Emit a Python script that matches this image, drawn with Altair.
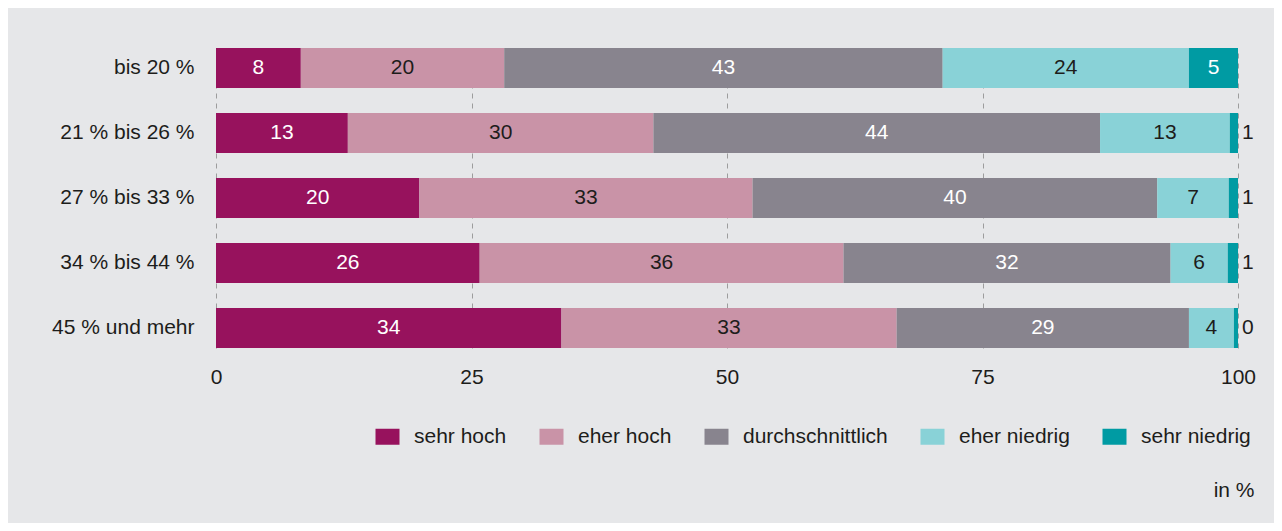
import altair as alt
import pandas as pd

categories = ["bis 20 %", "21 % bis 26 %", "27 % bis 33 %", "34 % bis 44 %", "45 % und mehr"]
levels = ["sehr hoch", "eher hoch", "durchschnittlich", "eher niedrig", "sehr niedrig"]
colors = ["#97125d", "#c993a7", "#88848e", "#89d2d7", "#009ba3"]
label_colors = ["#ffffff", "#1d1d1b", "#ffffff", "#1d1d1b", "#ffffff"]

sehr_hoch = [8.3, 12.9, 19.9, 25.8, 33.8]
eher_hoch = [19.9, 29.9, 32.6, 35.6, 32.8]
durchschnittlich = [42.9, 43.7, 39.6, 32.0, 28.6]
eher_niedrig = [24.1, 12.7, 7.0, 5.6, 4.4]
sehr_niedrig = [4.8, 0.8, 0.9, 1.0, 0.4]

series = [sehr_hoch, eher_hoch, durchschnittlich, eher_niedrig, sehr_niedrig]

rows = []
for i, cat in enumerate(categories):
    start = 0.0
    for j, lev in enumerate(levels):
        v = series[j][i]
        rows.append(dict(
            cat=cat, level=lev, start=start, end=start + v, mid=start + v / 2,
            value=v, label=f"{v:.0f}", tcol=label_colors[j],
            inside=v >= 3,
        ))
        start += v
df = pd.DataFrame(rows)

FONT = "Liberation Sans"
TXT = "#1d1d1b"

x_axis = alt.Axis(
    values=[0, 25, 50, 75, 100], grid=True, gridDash=[5, 5], gridColor="#9d9d9d",
    gridWidth=1, domain=False, ticks=False, labelFontSize=21, labelPadding=18,
    labelColor=TXT, labelFont=FONT, format="d", labelFlush=False,
    title="in %", titleX=1038, titleY=142, titleAlign="right", titleBaseline="middle",
    titleFontSize=21, titleFontWeight="normal", titleColor=TXT, titleFont=FONT, titleAngle=0,
)
x_scale = alt.Scale(domain=[0, 100], nice=False, zero=True)
y_enc = alt.Y(
    "cat:N", sort=categories,
    scale=alt.Scale(paddingInner=0.385, paddingOuter=0),
    axis=alt.Axis(title=None, labelFontSize=21, labelPadding=22, ticks=False, domain=False,
                  labelColor=TXT, labelFont=FONT, grid=False),
)

base = alt.Chart(df)

bars = base.mark_bar().encode(
    x=alt.X("start:Q", scale=x_scale, axis=x_axis),
    x2="end:Q",
    y=y_enc,
    color=alt.Color(
        "level:N",
        scale=alt.Scale(domain=levels, range=colors),
        legend=alt.Legend(
            title=None, orient="none", legendX=161, legendY=378, direction="horizontal",
            columns=5, symbolType="M-1.5,-1H1.5V1H-1.5Z", symbolSize=256, symbolStrokeWidth=0,
            symbolOpacity=1, labelFontSize=21, labelOffset=16, columnPadding=32,
            labelFont=FONT, labelColor=TXT, padding=0,
        ),
    ),
)

inside = base.transform_filter("datum.inside").mark_text(
    fontSize=21, font=FONT, align="center", baseline="middle"
).encode(
    x=alt.X("mid:Q", scale=x_scale, axis=x_axis),
    y=y_enc,
    text="label:N",
    color=alt.Color("tcol:N", scale=None),
)

outside = base.transform_filter("!datum.inside").mark_text(
    fontSize=21, font=FONT, align="left", baseline="middle", dx=4, color=TXT
).encode(
    x=alt.X("end:Q", scale=x_scale, axis=x_axis),
    y=y_enc,
    text="label:N",
)

chart = alt.layer(bars, inside, outside).properties(
    width=1022, height=300,
    autosize=alt.AutoSizeParams(type="none"),
    padding={"left": 208, "top": 40, "right": 36, "bottom": 175},
    background="#e6e7e9",
).configure_view(stroke=None)

chart.save("out.html", embed_options={"renderer": "svg", "actions": False})
